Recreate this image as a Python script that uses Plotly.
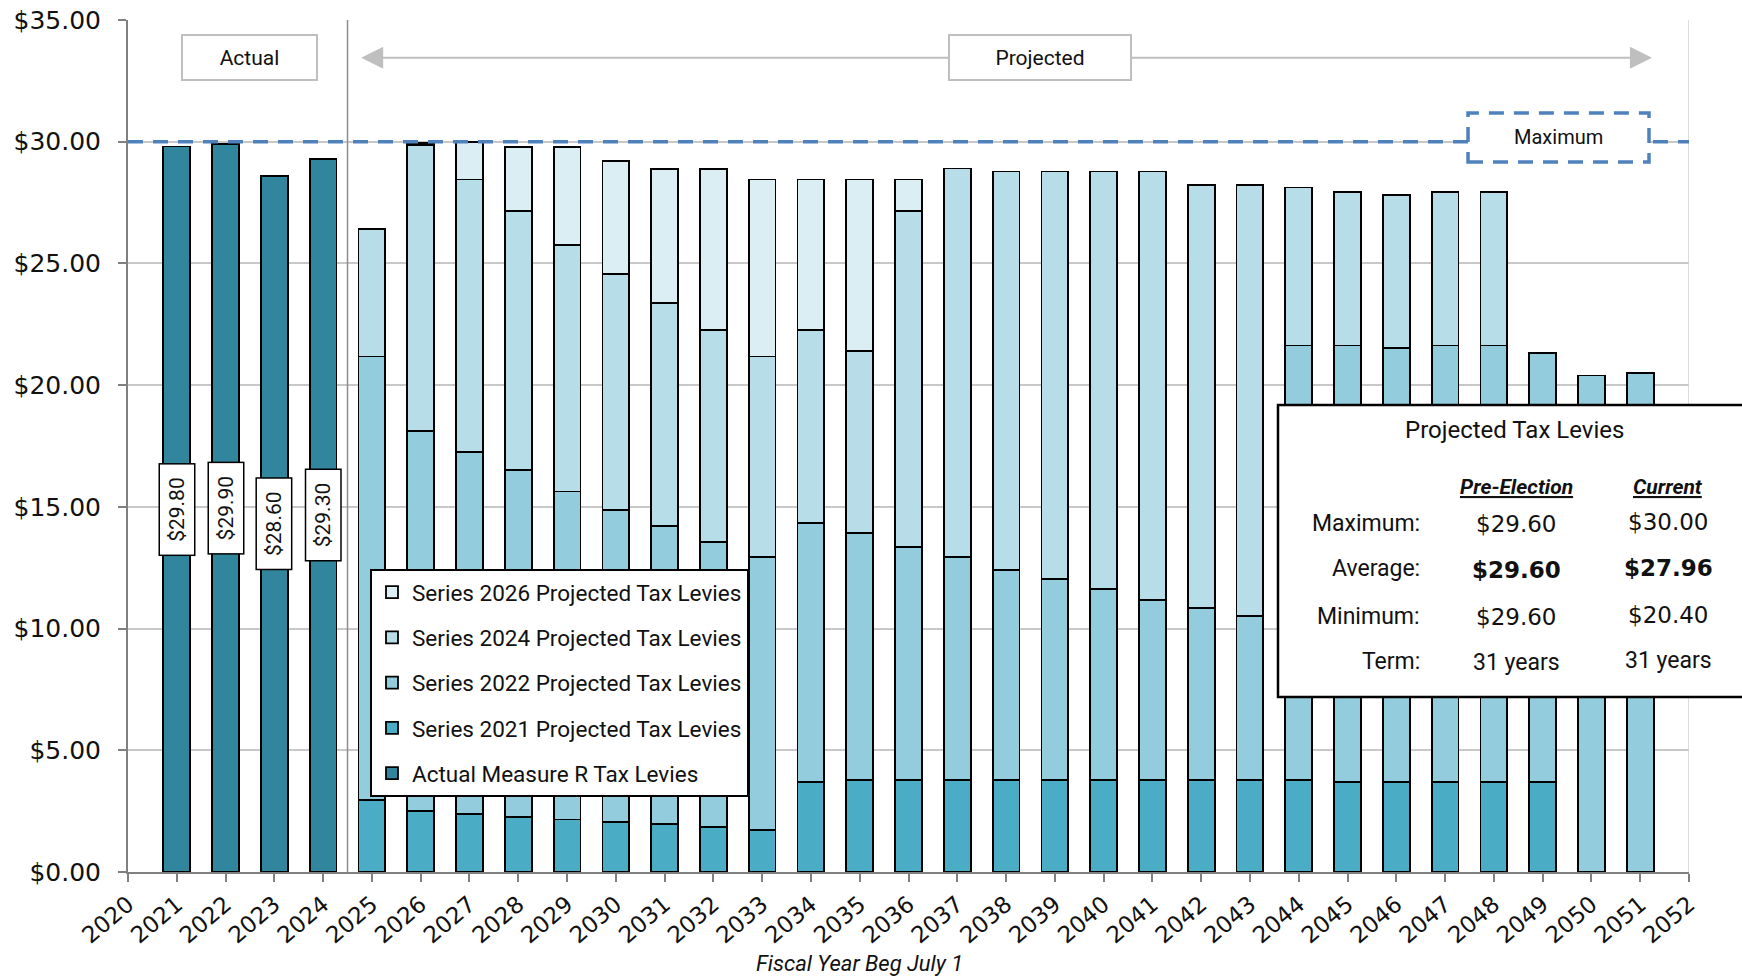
import plotly.graph_objects as go

# ---- data -------------------------------------------------------------
actual_years = [2021, 2022, 2023, 2024]
actual_levies = [29.80, 29.90, 28.60, 29.30]

proj_years = list(range(2025, 2052))
# stacked segments per fiscal year (2025 .. 2051), bottom to top
series_2021 = [2.95, 2.49, 2.37, 2.27, 2.16, 2.06, 1.96, 1.84, 1.73, 3.69,
               3.79, 3.79, 3.79, 3.79, 3.79, 3.79, 3.79, 3.79, 3.79, 3.79,
               3.69, 3.69, 3.69, 3.69, 3.69, None, None]
series_2022 = [18.23, 15.64, 14.90, 14.24, 13.47, 12.82, 12.26, 11.72, 11.21, 10.65,
               10.13, 9.57, 9.15, 8.60, 8.25, 7.83, 7.39, 7.07, 6.72, 17.84,
               17.94, 17.83, 17.94, 17.94, 17.63, 20.40, 20.50]
series_2024 = [5.22, 11.75, 11.18, 10.65, 10.12, 9.67, 9.15, 8.71, 8.24, 7.93,
               7.48, 13.80, 15.96, 16.39, 16.74, 17.16, 17.60, 17.37, 17.72, 6.49,
               6.29, 6.29, 6.29, 6.29, None, None, None]
series_2026 = [None, 0.08, 1.55, 2.61, 4.02, 4.67, 5.52, 6.62, 7.27, 6.18,
               7.05, 1.29, None, None, None, None, None, None, None, None,
               None, None, None, None, None, None, None]

max_levy = 30.00
year_ticks = list(range(2020, 2053))

stat_labels = ["Maximum:", "Average:", "Minimum:", "Term:"]
pre_election = ["$29.60", "$29.60", "$29.60", "31 years"]

# ---- derived summary for the "Current" column ---------------------------
proj_totals = [round(sum(v for v in seg if v is not None), 2)
               for seg in zip(series_2021, series_2022, series_2024, series_2026)]
all_totals = actual_levies + proj_totals
current = [f"${max(all_totals):.2f}",
           f"${sum(all_totals) / len(all_totals):.2f}",
           f"${min(all_totals):.2f}",
           f"{len(all_totals)} years"]

# ---- styling ------------------------------------------------------------
FONT = "Roboto"
NUM_FONT = "DejaVu Sans"
INK = "#111111"
W, H = 1742, 979
ML, MR, MT, MB = 128, 53, 20, 107
PW, PH = W - ML - MR, H - MT - MB


def px(xp):
    return (xp - ML) / PW


def py(yp):
    return (H - MB - yp) / PH


def note(x, y, text, size, family=FONT, **kw):
    d = dict(x=x, y=y, text=text, showarrow=False, xanchor="center", yanchor="middle",
             font=dict(family=family, size=size, color=INK))
    d.update(kw)
    return d


bar_line = dict(color="black", width=1.8)
bar_w = 0.55

fig = go.Figure()
fig.add_trace(go.Bar(x=actual_years, y=actual_levies, name="Actual Measure R Tax Levies",
                     marker=dict(color="#31859C", line=bar_line), width=bar_w,
                     legendgroup="a", legendrank=5))
fig.add_trace(go.Bar(x=proj_years, y=series_2021, name="Series 2021 Projected Tax Levies",
                     marker=dict(color="#4BACC6", line=bar_line), width=bar_w,
                     legendgroup="b", legendrank=4))
fig.add_trace(go.Bar(x=proj_years, y=series_2022, name="Series 2022 Projected Tax Levies",
                     marker=dict(color="#93CDDD", line=bar_line), width=bar_w,
                     legendgroup="c", legendrank=3))
fig.add_trace(go.Bar(x=proj_years, y=series_2024, name="Series 2024 Projected Tax Levies",
                     marker=dict(color="#B7DEE8", line=bar_line), width=bar_w,
                     legendgroup="d", legendrank=2))
fig.add_trace(go.Bar(x=proj_years, y=series_2026, name="Series 2026 Projected Tax Levies",
                     marker=dict(color="#DAEEF3", line=bar_line), width=bar_w,
                     legendgroup="e", legendrank=1))

shapes = []
annotations = []

# actual / projected divider and right plot border
shapes.append(dict(type="line", xref="x", yref="y", x0=2024.5, x1=2024.5, y0=0, y1=35,
                   line=dict(color="#8C8C8C", width=1.5)))
shapes.append(dict(type="line", xref="x", yref="y", x0=2052, x1=2052, y0=0, y1=35,
                   line=dict(color="#D0D0D0", width=1.5)))

# maximum levy line and its label box
shapes.append(dict(type="line", xref="x", yref="y", x0=2020, x1=2052, y0=max_levy, y1=max_levy,
                   line=dict(color="#4F81BD", width=3.5, dash="15px,10px")))
shapes.append(dict(type="rect", xref="x", yref="y", x0=2047.47, x1=2051.18, y0=29.17, y1=31.18,
                   fillcolor="white", line=dict(color="#4F81BD", width=3.5, dash="15px,10px")))
annotations.append(note(2049.32, 30.2, "Maximum", 20, xref="x", yref="y"))

# projected-period arrow
arrow_y = 33.45
for end in (2024.78, 2051.24):
    annotations.append(dict(x=end, y=arrow_y, ax=2038.7, ay=arrow_y, xref="x", yref="y",
                            axref="x", ayref="y", text="", showarrow=True,
                            arrowhead=2, arrowsize=2.2, arrowwidth=2, arrowcolor="#BFBFBF"))
annotations.append(note(2022.5, arrow_y, "Actual", 21, xref="x", yref="y", bgcolor="white",
                        bordercolor="#BFBFBF", borderwidth=2, borderpad=1, width=131, height=41))
annotations.append(note(2038.7, arrow_y, "Projected", 21, xref="x", yref="y", bgcolor="white",
                        bordercolor="#BFBFBF", borderwidth=2, borderpad=1, width=178, height=41))

# value labels on the actual bars
for yr, v in zip(actual_years, actual_levies):
    annotations.append(note(yr, v / 2, f"${v:.2f}", 21, xref="x", yref="y", textangle=-90,
                            bgcolor="white", bordercolor="black", borderwidth=1.5, borderpad=3,
                            width=84, height=28))

# summary table
shapes.append(dict(type="rect", xref="paper", yref="paper", x0=px(1278), x1=px(1760),
                   y0=py(697), y1=py(405), fillcolor="white", line=dict(color="black", width=2.5)))
annotations.append(note(px(1514), py(430), "Projected Tax Levies", 24,
                        xref="paper", yref="paper"))
annotations.append(note(px(1516), py(487), "<b><i><u>Pre-Election</u></i></b>", 21,
                        xref="paper", yref="paper"))
annotations.append(note(px(1668), py(487), "<b><i><u>Current</u></i></b>", 21,
                        xref="paper", yref="paper"))
row_y = [523, 569, 616, 661]
for i, (lab, pre, cur) in enumerate(zip(stat_labels, pre_election, current)):
    annotations.append(note(px(1422), py(row_y[i]), lab, 23, xref="paper", yref="paper",
                            xanchor="right"))
    fmt = "<b>{}</b>" if lab == "Average:" else "{}"
    val_family = FONT if "years" in pre else NUM_FONT
    annotations.append(note(px(1516), py(row_y[i] + 1), fmt.format(pre), 23,
                            family=val_family, xref="paper", yref="paper"))
    annotations.append(note(px(1668), py(row_y[i] - 1), fmt.format(cur), 23,
                            family=val_family, xref="paper", yref="paper"))

# x-axis title
annotations.append(note(px(859), py(963), "<i>Fiscal Year Beg July 1</i>", 22,
                        xref="paper", yref="paper"))

fig.update_layout(
    width=W, height=H,
    margin=dict(l=ML, r=MR, t=MT, b=MB, autoexpand=False),
    paper_bgcolor="white", plot_bgcolor="white",
    barmode="stack",
    font=dict(family=FONT, color=INK),
    shapes=shapes,
    annotations=annotations,
    showlegend=True,
    legend=dict(x=px(370), y=py(569), xanchor="left", yanchor="top",
                bgcolor="white", bordercolor="black", borderwidth=2,
                font=dict(family=FONT, size=22.5, color=INK),
                traceorder="grouped", tracegroupgap=13, itemwidth=30),
    xaxis=dict(range=[2020, 2052], tickmode="array", tickvals=year_ticks,
               ticktext=[str(y) for y in year_ticks], tickangle=-40,
               tickfont=dict(family=NUM_FONT, size=23, color=INK),
               ticks="outside", ticklen=8, tickcolor="#808080", tickwidth=1.5,
               showline=True, linecolor="#808080", linewidth=2,
               showgrid=False, zeroline=False, automargin=False),
    yaxis=dict(range=[0, 35], dtick=5, tickprefix="$", tickformat=".2f",
               tickfont=dict(family=NUM_FONT, size=25, color=INK),
               ticks="outside", ticklen=8, tickcolor="#808080", tickwidth=1.5,
               ticklabelstandoff=12,
               showline=True, linecolor="#808080", linewidth=2,
               showgrid=True, gridcolor="#C8C8C8", gridwidth=2, zeroline=False,
               automargin=False),
)

fig.write_html("out.html")
